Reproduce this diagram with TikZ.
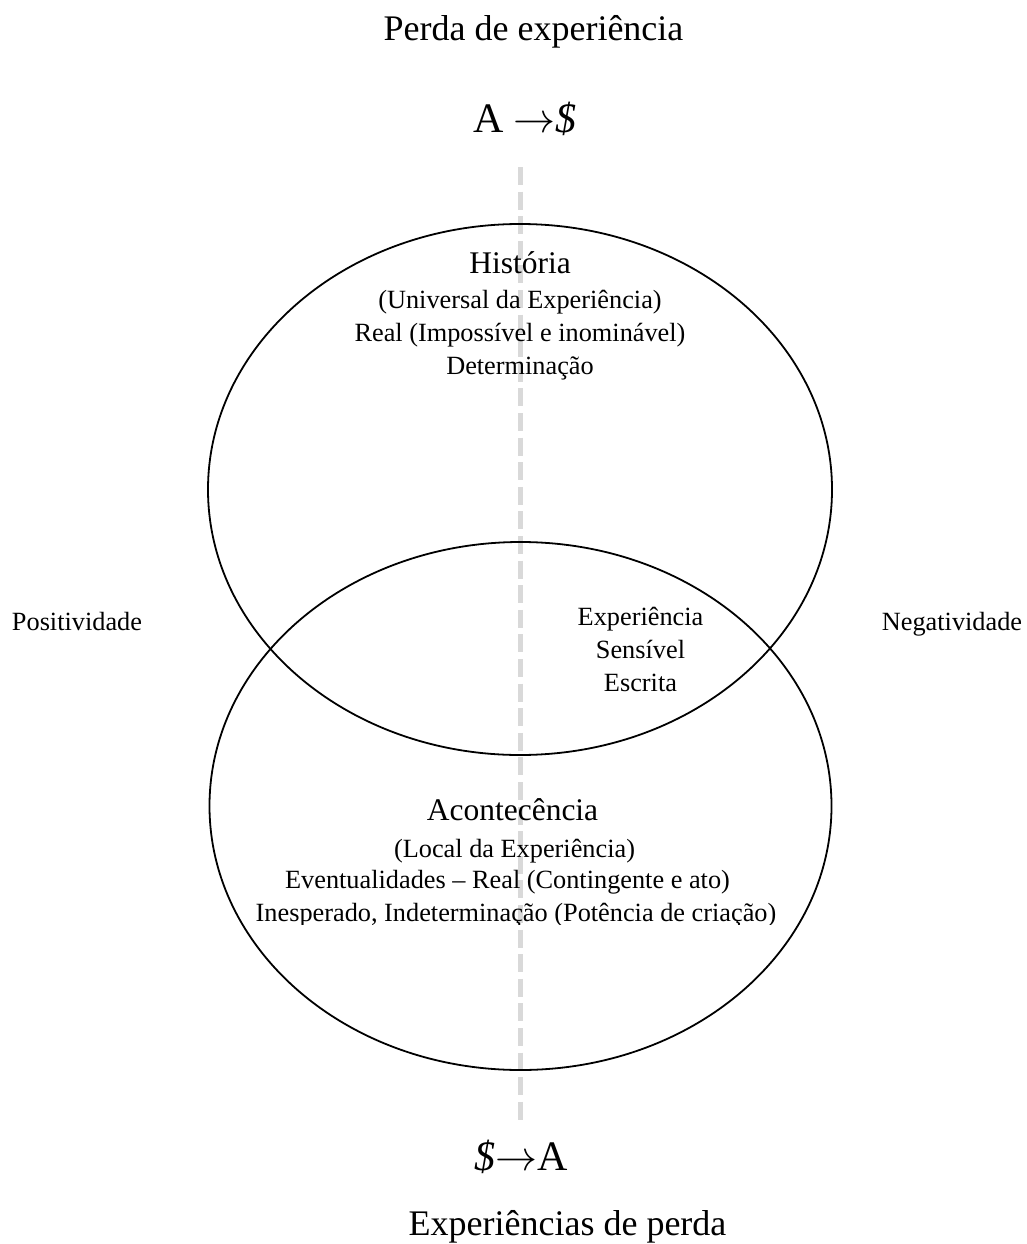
\documentclass[tikz,border=0pt]{standalone}
\usepackage{graphicx}
\usepackage{fontspec}
\setmainfont{Liberation Serif}
\newcommand{\bigarrow}{\scalebox{4.2}{\fontsize{10}{12}\selectfont$\rightarrow$}}
\definecolor{dashgray}{RGB}{217,217,217}
\begin{document}
\begin{tikzpicture}[x=1pt,y=-1pt,
  ring/.style={draw=black,line width=1.8pt},
  axisline/.style={draw=dashgray,line width=5.5pt,dash pattern=on 18pt off 6.6pt},
  titletext/.style={anchor=base,inner sep=0pt,font=\fontsize{36}{40}\selectfont},
  formula/.style={anchor=base,inner sep=0pt,font=\fontsize{42}{46}\selectfont},
  headtext/.style={anchor=base,inner sep=0pt,font=\fontsize{31.5}{36}\selectfont},
  bodytext/.style={anchor=base,inner sep=0pt,font=\fontsize{26.3}{32}\selectfont}]
\useasboundingbox (0,0) rectangle (1026,1244);
\fill[white] (0,0) rectangle (1026,1244);
% vertical axis
\coordinate (axtop) at (520.5,167);
\coordinate (axbot) at (520.5,1122);
\draw[axisline] (axtop) -- (axbot);
% titles
\node[titletext] (t1) at (533.5,41) {Perda de experiência};
\node[formula] (f1) at (525,132) {A \bigarrow\textit{\$}};
\node[formula] (f2) at (521,1170) {\textit{\$}\bigarrow A};
\node[titletext] (t2) at (567.5,1235) {Experiências de perda};
% side labels
\node[bodytext] (pos) at (77,630) {Positividade};
\node[bodytext] (neg) at (952,630) {Negatividade};
% História
\node[headtext] (h0) at (520,273) {História};
\node[bodytext] (h1) at (520,308) {(Universal da Experiência)};
\node[bodytext] (h2) at (520,341) {Real (Impossível e inominável)};
\node[bodytext] (h3) at (520,374) {Determinação};
% intersection
\node[bodytext] (m1) at (640.5,625) {Experiência};
\node[bodytext] (m2) at (640.5,658) {Sensível};
\node[bodytext] (m3) at (640.5,691) {Escrita};
% Acontecência
\node[headtext] (a0) at (512.5,820) {Acontecência};
\node[bodytext] (a1) at (514.5,857) {(Local da Experiência)};
\node[bodytext] (a2) at (507.5,888) {Eventualidades – Real (Contingente e ato)};
\begin{scope}
\clip (0,0) rectangle (1026,924.5);
\node[bodytext] (a3) at (516,921) {Inesperado, Indeterminação (Potência de criação)};
\end{scope}
% ellipses
\draw[ring] (520,489.5) ellipse [x radius=312, y radius=265.5];
\draw[ring] (520.5,806) ellipse [x radius=311, y radius=264];
\end{tikzpicture}
\end{document}
